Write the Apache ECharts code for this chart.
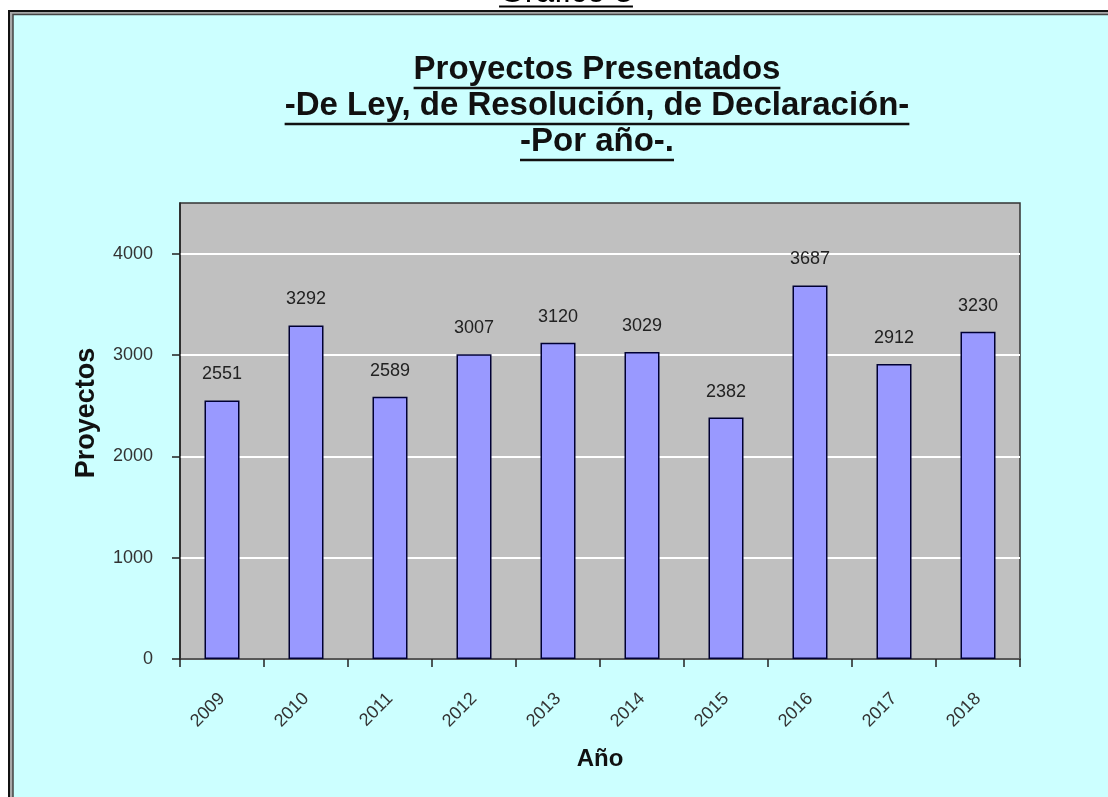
<!DOCTYPE html>
<html>
<head>
<meta charset="utf-8">
<script src="https://cdn.jsdelivr.net/npm/echarts@6/dist/echarts.min.js"></script>
<style>
html,body{margin:0;padding:0;background:#fff;}
#c{width:1108px;height:797px;}
</style>
</head>
<body>
<div id="c"></div>
<script>
var categories = ['2009','2010','2011','2012','2013','2014','2015','2016','2017','2018'];
var proyectos = [2551, 3292, 2589, 3007, 3120, 3029, 2382, 3687, 2912, 3230];
var yTicks = [0, 1000, 2000, 3000, 4000];
var titleLines = ['Proyectos Presentados', '-De Ley, de Resolución, de Declaración-', '-Por año-.'];
var topTitle = 'Gráfico 3';
var yName = 'Proyectos';
var xName = 'Año';

var ctx = document.createElement('canvas').getContext('2d');
function measure(text, font){ ctx.font = font; return ctx.measureText(text).width; }

var FONT = 'Arial, "Liberation Sans", sans-serif';
var titleFontSize = 33;
var titleCx = 597;
var titleTops = [53, 89, 125];
var underlineY = [88, 124, 160];

var graphics = [
  {type:'rect', z:-10, shape:{x:9, y:11, width:1200, height:900}, style:{fill:'#a8a8a8', stroke:'#111', lineWidth:2}},
  {type:'rect', z:-9, shape:{x:13, y:14.5, width:1200, height:900}, style:{fill:'#ccffff', stroke:'#444', lineWidth:1.5}}
];
// top caption (mostly cut off at the top edge)
var capFont = 'normal 33px ' + FONT;
var capW = measure(topTitle, capFont);
graphics.push({type:'text', x:566, y:-24, style:{text:topTitle, font:capFont, fill:'#000', align:'center', verticalAlign:'top'}});
graphics.push({type:'line', shape:{x1:566-capW/2, y1:6.5, x2:566+capW/2, y2:6.5}, style:{stroke:'#000', lineWidth:2}});

titleLines.forEach(function(t, i){
  var f = 'bold ' + titleFontSize + 'px ' + FONT;
  var w = measure(t, f);
  graphics.push({type:'text', x:titleCx, y:titleTops[i], style:{text:t, font:f, fill:'#111', align:'center', verticalAlign:'top'}});
  graphics.push({type:'line', shape:{x1:titleCx-w/2, y1:underlineY[i], x2:titleCx+w/2, y2:underlineY[i]}, style:{stroke:'#111', lineWidth:2.5}});
});

// y axis name
graphics.push({type:'text', x:87, y:413, rotation:Math.PI/2, style:{text:yName, font:'bold 27px ' + FONT, fill:'#111', align:'center', verticalAlign:'middle'}});

var chart = echarts.init(document.getElementById('c'));
chart.setOption({
  animation:false,
  backgroundColor:'transparent',
  graphic: graphics,
  grid:{left:180, right:88, top:203, bottom:138, show:true, backgroundColor:'#c0c0c0', borderColor:'#333', borderWidth:1.5, containLabel:false},
  xAxis:{
    type:'category', data:categories,
    name:xName, nameLocation:'middle', nameGap:88,
    nameTextStyle:{fontFamily:FONT, fontSize:24, fontWeight:'bold', color:'#111'},
    axisLine:{lineStyle:{color:'#222', width:1.5}},
    axisTick:{show:true, length:8, lineStyle:{color:'#222', width:1.5}},
    axisLabel:{rotate:45, margin:37, fontFamily:FONT, fontSize:18, color:'#333'},
    splitLine:{show:false}
  },
  yAxis:{
    type:'value', min:0, max:4500, interval:1000,
    axisLine:{show:true, lineStyle:{color:'#222', width:1.5}},
    axisTick:{show:true, length:8, customValues:yTicks, lineStyle:{color:'#222', width:1.5}},
    axisLabel:{margin:27, fontFamily:FONT, fontSize:18, color:'#333', customValues:yTicks,
      formatter:function(v){ return String(v); }},
    splitLine:{show:true, lineStyle:{color:'#ffffff', width:2}}
  },
  series:[{
    type:'bar', data:proyectos, barWidth:35,
    itemStyle:{color:'#9999ff', borderColor:'#000033', borderWidth:1.5},
    label:{show:true, position:'top', distance:17, fontFamily:FONT, fontSize:18, color:'#222'}
  }]
});
</script>
</body>
</html>
